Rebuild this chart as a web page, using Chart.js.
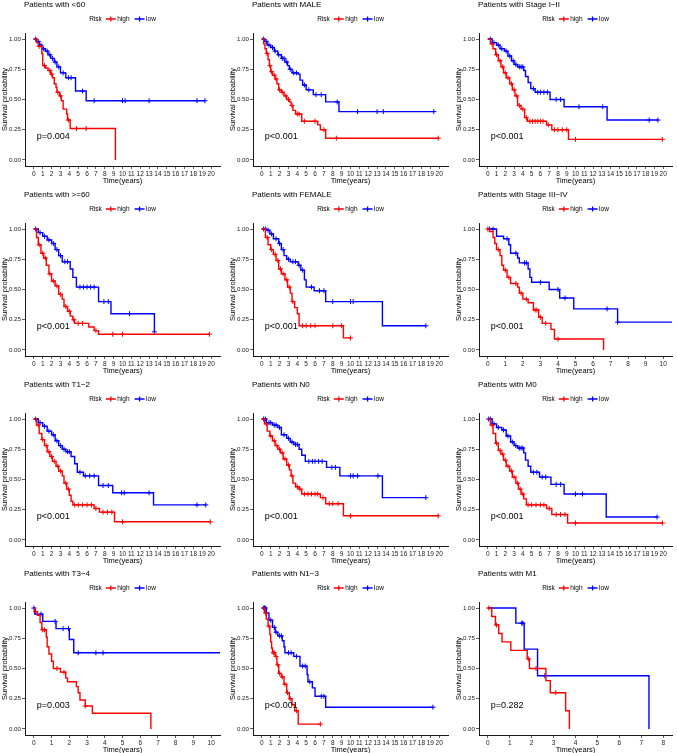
<!DOCTYPE html>
<html lang="en">
<head>
<meta charset="UTF-8" />
<title>Survival by subgroup</title>
<script src="https://cdn.jsdelivr.net/npm/chart.js@4"></script>
<style>
  html, body { margin: 0; padding: 0; background: #fff; }
  body { width: 677px; height: 753px; position: relative; overflow: hidden; }
  .panel { position: absolute; width: 225px; height: 189px; }
</style>
</head>
<body>
<script>
// KM step points [time, survival] and censor times
const lt60High = [[0,1],[0.3,0.97],[0.5,0.94],[0.9,0.88],[1.0,0.78],[1.3,0.76],[1.6,0.74],[1.9,0.71],[2.1,0.68],[2.3,0.63],[2.5,0.60],[2.6,0.56],[2.9,0.53],[3.1,0.49],[3.3,0.42],[3.7,0.38],[3.8,0.33],[4.1,0.26],[9.2,0]];
const lt60HighCens = [0.6,1.2,1.8,2.0,2.7,3.0,3.9,4.8,5.9];
const lt60Low = [[0,1],[0.3,0.98],[0.6,0.95],[0.9,0.92],[1.3,0.90],[1.6,0.87],[1.9,0.84],[2.3,0.81],[2.6,0.77],[3.0,0.72],[3.6,0.68],[4.7,0.57],[5.9,0.49],[19.3,0.49]];
const lt60LowCens = [0.2,0.5,0.8,1.1,1.5,1.8,2.1,2.4,2.8,3.3,3.9,4.2,5.5,6.8,10.0,10.3,13.0,18.4,19.3];

const maleHigh = [[0,1],[0.2,0.96],[0.35,0.92],[0.5,0.88],[0.7,0.83],[0.85,0.78],[1.0,0.73],[1.2,0.70],[1.5,0.67],[1.7,0.63],[1.9,0.58],[2.2,0.56],[2.5,0.53],[2.8,0.50],[3.1,0.48],[3.3,0.45],[3.5,0.41],[3.8,0.38],[4.5,0.32],[6.3,0.29],[6.6,0.25],[7.2,0.18],[19.9,0.18]];
const maleHighCens = [0.6,0.9,1.1,1.4,1.6,2.0,2.3,2.7,3.0,3.4,4.0,4.2,4.8,6.0,7.0,8.4,19.9];
const maleLow = [[0,1],[0.3,0.98],[0.6,0.95],[1.0,0.93],[1.4,0.90],[1.8,0.87],[2.2,0.84],[2.6,0.81],[2.9,0.78],[3.1,0.75],[3.4,0.72],[4.1,0.71],[4.3,0.66],[4.6,0.62],[5.0,0.58],[5.8,0.54],[7.2,0.48],[8.7,0.40],[19.4,0.40]];
const maleLowCens = [0.2,0.5,0.8,1.2,1.5,1.9,2.3,2.5,2.8,3.2,3.6,3.9,4.8,5.3,6.1,6.7,8.5,10.8,13.0,13.7,19.4];

const st12High = [[0,1],[0.3,0.96],[0.6,0.92],[0.9,0.87],[1.2,0.82],[1.5,0.77],[1.8,0.72],[2.1,0.68],[2.5,0.63],[2.8,0.58],[3.1,0.53],[3.4,0.45],[3.8,0.42],[4.2,0.35],[4.5,0.32],[6.7,0.29],[7.3,0.25],[9.2,0.17],[19.9,0.17]];
const st12HighCens = [0.5,1.0,1.4,1.7,2.0,2.3,2.7,3.0,3.3,3.6,4.0,4.4,4.8,5.1,5.4,5.7,6.0,6.3,6.9,7.6,8.0,8.5,9.0,10.0,19.9];
const st12Low = [[0,1],[0.5,0.97],[1.0,0.95],[1.4,0.92],[1.9,0.90],[2.3,0.86],[2.7,0.82],[3.0,0.79],[3.4,0.77],[4.1,0.74],[4.3,0.69],[4.6,0.64],[4.9,0.59],[5.4,0.56],[7.1,0.50],[8.7,0.44],[13.6,0.33],[19.4,0.33]];
const st12LowCens = [0.3,0.7,1.2,1.6,2.1,2.5,2.9,3.2,3.6,3.8,4.0,5.2,5.7,6.0,6.4,6.8,7.8,8.3,10.4,13.1,18.4,19.4];

const ge60High = [[0,1],[0.3,0.93],[0.5,0.87],[0.8,0.80],[1.1,0.76],[1.4,0.70],[1.7,0.63],[2.0,0.57],[2.4,0.53],[2.8,0.46],[3.2,0.42],[3.4,0.36],[3.8,0.32],[4.1,0.28],[4.4,0.25],[4.6,0.22],[6.2,0.19],[6.8,0.16],[7.3,0.13],[19.8,0.13]];
const ge60HighCens = [0.6,1.0,1.3,1.8,2.2,2.6,3.0,3.6,4.0,4.5,5.0,5.5,7.0,8.9,10.0,19.8];
const ge60Low = [[0,1],[0.5,0.97],[1.0,0.94],[1.5,0.91],[2.0,0.88],[2.4,0.83],[2.8,0.78],[3.2,0.73],[4.1,0.67],[4.4,0.60],[4.8,0.52],[7.3,0.40],[8.7,0.30],[13.6,0.15]];
const ge60LowCens = [0.2,0.7,1.2,1.7,2.2,2.6,3.0,3.5,3.8,5.2,5.6,6.0,6.4,6.8,7.9,8.4,10.8,13.6];

const femaleHigh = [[0,1],[0.4,0.93],[0.7,0.87],[1.0,0.83],[1.3,0.79],[1.6,0.74],[1.9,0.67],[2.2,0.63],[2.6,0.58],[2.9,0.52],[3.2,0.47],[3.4,0.40],[3.7,0.35],[4.0,0.30],[4.2,0.20],[9.2,0.10],[10.0,0.10]];
const femaleHighCens = [0.6,1.1,1.5,1.8,2.1,2.4,2.8,3.1,3.5,4.6,5.0,5.5,6.0,8.0,9.0,10.0];
const femaleLow = [[0,1],[0.5,0.99],[0.9,0.96],[1.3,0.92],[1.9,0.88],[2.2,0.83],[2.5,0.78],[2.8,0.75],[3.2,0.73],[4.1,0.70],[4.4,0.66],[4.8,0.58],[5.0,0.52],[5.9,0.49],[7.2,0.40],[13.6,0.20],[18.5,0.20]];
const femaleLowCens = [0.2,0.4,0.7,1.1,1.6,2.0,2.4,3.0,3.5,3.8,4.2,4.6,5.6,6.5,7.0,8.0,10.0,10.3,18.5];

const st34High = [[0,1],[0.1,0.98],[0.3,0.93],[0.4,0.88],[0.5,0.83],[0.7,0.78],[0.8,0.70],[0.9,0.66],[1.1,0.60],[1.3,0.55],[1.7,0.52],[1.8,0.47],[2.0,0.42],[2.3,0.39],[2.6,0.33],[2.9,0.27],[3.1,0.22],[3.6,0.17],[3.8,0.09],[6.6,0]];
const st34HighCens = [0.0,0.6,1.0,1.2,1.6,1.9,2.2,2.7,2.8,3.0,3.3,4.0];
const st34Low = [[0,1],[0.5,0.94],[0.9,0.92],[1.2,0.87],[1.3,0.80],[1.7,0.76],[1.8,0.72],[2.3,0.67],[2.4,0.60],[2.5,0.56],[3.5,0.50],[4.1,0.43],[4.9,0.34],[7.4,0.23],[11,0.23]];
const st34LowCens = [0.1,0.3,1.1,1.6,2.1,2.2,3.0,4.0,4.4,6.8,7.4];

const t12High = [[0,1],[0.3,0.95],[0.6,0.88],[0.9,0.83],[1.2,0.78],[1.5,0.73],[1.8,0.69],[2.1,0.65],[2.5,0.61],[2.8,0.57],[3.2,0.53],[3.4,0.47],[3.7,0.42],[4.0,0.37],[4.2,0.32],[4.4,0.29],[6.8,0.26],[7.4,0.23],[9.1,0.15],[19.9,0.15]];
const t12HighCens = [0.5,1.0,1.4,1.7,2.0,2.3,2.7,3.0,3.6,3.9,4.6,5.0,5.5,6.0,6.5,7.0,7.8,8.3,8.8,10.0,19.9];
const t12Low = [[0,1],[0.5,0.97],[1.0,0.94],[1.5,0.90],[2.0,0.87],[2.4,0.82],[2.8,0.78],[3.2,0.75],[3.6,0.73],[4.2,0.69],[4.6,0.63],[4.9,0.56],[5.6,0.53],[7.3,0.45],[8.9,0.39],[13.5,0.29],[19.4,0.29]];
const t12LowCens = [0.2,0.7,1.2,1.7,2.2,2.6,3.0,3.4,3.8,4.0,5.2,5.8,6.3,6.8,7.8,8.4,9.9,10.2,13.0,18.4,19.4];

const n0High = [[0,1],[0.3,0.96],[0.6,0.90],[0.9,0.86],[1.2,0.82],[1.5,0.78],[1.8,0.75],[2.1,0.72],[2.4,0.67],[2.8,0.62],[3.1,0.58],[3.3,0.53],[3.5,0.47],[3.8,0.44],[4.2,0.42],[4.5,0.38],[6.6,0.35],[7.2,0.30],[9.2,0.20],[19.9,0.20]];
const n0HighCens = [0.5,1.0,1.4,1.7,2.0,2.3,2.6,3.0,3.4,4.0,4.3,4.8,5.2,5.6,6.0,6.3,6.9,7.6,8.0,8.6,10.0,19.9];
const n0Low = [[0,1],[0.5,0.97],[1.2,0.95],[1.8,0.93],[2.2,0.87],[2.8,0.84],[3.2,0.81],[3.6,0.79],[4.2,0.75],[4.5,0.70],[4.9,0.65],[7.3,0.60],[8.8,0.53],[13.6,0.35],[18.5,0.35]];
const n0LowCens = [0.2,0.4,0.8,1.0,1.4,1.6,2.0,2.5,3.0,3.4,3.8,4.0,5.3,5.7,6.0,6.4,6.8,7.9,8.3,10.0,10.3,10.8,13.1,18.5];

const m0High = [[0,1],[0.3,0.95],[0.6,0.88],[0.9,0.80],[1.2,0.74],[1.5,0.71],[1.8,0.66],[2.1,0.61],[2.5,0.57],[2.8,0.52],[3.2,0.47],[3.5,0.42],[3.8,0.38],[4.1,0.34],[4.4,0.29],[6.7,0.26],[7.3,0.21],[9.1,0.14],[19.9,0.14]];
const m0HighCens = [0.5,1.0,1.4,1.7,2.0,2.3,2.7,3.0,3.4,3.7,4.0,4.6,5.0,5.5,6.0,6.4,7.0,7.8,8.3,8.8,10.0,19.9];
const m0Low = [[0,1],[0.5,0.96],[1.0,0.93],[1.6,0.91],[2.1,0.86],[2.6,0.81],[3.0,0.78],[3.4,0.76],[4.1,0.72],[4.3,0.66],[4.6,0.61],[4.9,0.56],[5.9,0.52],[7.2,0.46],[8.7,0.38],[13.5,0.19],[19.3,0.19]];
const m0LowCens = [0.1,0.3,0.7,1.2,1.8,2.3,2.8,3.2,3.6,3.8,4.0,5.2,5.6,6.2,6.6,7.8,8.3,10.0,10.8,19.3];

const t34High = [[0,1],[0.05,0.97],[0.2,0.94],[0.35,0.88],[0.45,0.82],[0.7,0.76],[0.75,0.68],[0.85,0.62],[1.0,0.56],[1.1,0.50],[1.5,0.47],[1.8,0.42],[1.9,0.39],[2.4,0.35],[2.5,0.30],[2.6,0.24],[2.9,0.19],[3.3,0.13],[6.6,0]];
const t34HighCens = [0.1,0.5,0.6,1.3,1.7,2.9];
const t34Low = [[0,1],[0.05,0.95],[0.5,0.89],[1.25,0.83],[2.0,0.74],[2.25,0.63],[11,0.63]];
const t34LowCens = [0.0,0.4,1.2,1.65,1.95,2.5,3.5,3.9];

const n13High = [[0,1],[0.3,0.96],[0.5,0.91],[0.7,0.85],[0.9,0.78],[1.0,0.72],[1.1,0.67],[1.2,0.63],[1.5,0.60],[1.7,0.53],[1.9,0.46],[2.2,0.43],[2.5,0.37],[2.8,0.30],[3.1,0.25],[3.4,0.20],[3.7,0.15],[4.1,0.04],[6.6,0.04]];
const n13HighCens = [0.4,0.8,1.3,1.4,1.6,1.8,2.0,2.3,2.6,2.9,3.2,3.9,6.6];
const n13Low = [[0,1],[0.5,0.96],[0.8,0.90],[1.2,0.84],[1.5,0.80],[1.8,0.77],[2.3,0.73],[2.5,0.68],[2.6,0.63],[3.6,0.60],[4.3,0.52],[5.1,0.45],[5.2,0.39],[5.7,0.34],[6.0,0.27],[7.2,0.18],[19.3,0.18]];
const n13LowCens = [0.2,0.3,0.4,1.0,1.4,1.6,2.0,2.2,3.0,3.3,3.9,4.6,4.9,5.4,6.7,7.0,19.3];

const m1High = [[0,1],[0.18,0.93],[0.35,0.86],[0.5,0.79],[0.65,0.72],[1.05,0.65],[1.8,0.58],[1.9,0.50],[2.65,0.40],[2.85,0.30],[3.55,0.15],[3.72,0]];
const m1HighCens = [0.05,0.4,1.85,2.2,3.1];
const m1Low = [[0,1],[1.28,0.875],[1.66,0.66],[2.27,0.44],[7.35,0]];
const m1LowCens = [1.55,1.6,2.6];

const titles = ["Patients with <60","Patients with MALE","Patients with Stage I\u2212II",
  "Patients with >=60","Patients with FEMALE","Patients with Stage III\u2212IV",
  "Patients with T1\u22122","Patients with N0","Patients with M0",
  "Patients with T3\u22124","Patients with N1\u22123","Patients with M1"];
const pvals = ["p=0.004","p<0.001","p<0.001","p<0.001","p<0.001","p<0.001",
  "p<0.001","p<0.001","p<0.001","p=0.003","p<0.001","p=0.282"];
const xMaxes = [20,20,20,20,20,10,20,20,20,10,20,8];
const yTicks = [0, 0.25, 0.5, 0.75, 1];
const highCurves = [lt60High, maleHigh, st12High, ge60High, femaleHigh, st34High, t12High, n0High, m0High, t34High, n13High, m1High];
const highCens = [lt60HighCens, maleHighCens, st12HighCens, ge60HighCens, femaleHighCens, st34HighCens, t12HighCens, n0HighCens, m0HighCens, t34HighCens, n13HighCens, m1HighCens];
const lowCurves = [lt60Low, maleLow, st12Low, ge60Low, femaleLow, st34Low, t12Low, n0Low, m0Low, t34Low, n13Low, m1Low];
const lowCens = [lt60LowCens, maleLowCens, st12LowCens, ge60LowCens, femaleLowCens, st34LowCens, t12LowCens, n0LowCens, m0LowCens, t34LowCens, n13LowCens, m1LowCens];

const RED = "#ff0000";
const BLUE = "#0000ff";
const FONT = "'Liberation Sans', Arial, sans-serif";
const colLeft = [0, 228, 454];
const rowTop = [0, 190, 380, 569];

function survAt(steps, t) {
  let s = steps[0][1];
  for (const [st, sv] of steps) if (st <= t) s = sv;
  return s;
}

// title, inline legend and p-value drawn in the padding / plot area
const panelText = {
  id: "panelText",
  afterDraw(chart, args, opts) {
    const { ctx, chartArea } = chart;
    const xs = chart.scales.x, ys = chart.scales.y;
    ctx.save();
    ctx.fillStyle = "#000";
    ctx.textBaseline = "middle";
    ctx.textAlign = "left";
    ctx.font = "8px " + FONT;
    ctx.fillText(opts.title, chartArea.left - 1, 5);

    ctx.font = "6.5px " + FONT;
    const wRisk = ctx.measureText("Risk").width;
    const wHigh = ctx.measureText("high").width;
    const wLow = ctx.measureText("low").width;
    const sym = 10;
    const total = wRisk + 4 + sym + 1.5 + wHigh + 5 + sym + 1.5 + wLow;
    let lx = (chartArea.left + chartArea.right) / 2 - total / 2;
    const ly = 19;
    ctx.fillText("Risk", lx, ly);
    lx += wRisk + 4;
    const drawSym = (x, color) => {
      ctx.strokeStyle = color;
      ctx.lineWidth = 1.3;
      ctx.beginPath();
      ctx.moveTo(x, ly); ctx.lineTo(x + sym, ly);
      ctx.moveTo(x + sym / 2, ly - 2.4); ctx.lineTo(x + sym / 2, ly + 2.4);
      ctx.stroke();
    };
    drawSym(lx, RED);
    lx += sym + 1.5;
    ctx.fillText("high", lx, ly);
    lx += wHigh + 5;
    drawSym(lx, BLUE);
    lx += sym + 1.5;
    ctx.fillText("low", lx, ly);

    ctx.font = "9px " + FONT;
    ctx.fillText(opts.pval, xs.getPixelForValue(0) + 3, ys.getPixelForValue(0.19));
    ctx.restore();
  }
};

titles.forEach((title, i) => {
  const col = i % 3, row = Math.floor(i / 3);
  const div = document.createElement("div");
  div.className = "panel";
  div.style.left = colLeft[col] + "px";
  div.style.top = rowTop[row] + "px";
  if (col === 2) div.style.width = "223px";
  const canvas = document.createElement("canvas");
  div.appendChild(canvas);
  document.body.appendChild(div);

  const xMax = xMaxes[i];
  const pad = xMax * 0.05;
  const xTicks = [];
  for (let v = 0; v <= xMax; v++) xTicks.push(v);

  const high = highCurves[i], low = lowCurves[i];
  const toXY = steps => steps.map(([x, y]) => ({ x, y }));
  const censXY = (steps, times) => times.map(t => ({ x: t, y: survAt(steps, t) }));

  new Chart(canvas, {
    type: "scatter",
    data: {
      datasets: [
        { label: "high", data: toXY(high), showLine: true, stepped: true, borderColor: RED, borderWidth: 1.4, pointRadius: 0 },
        { label: "low", data: toXY(low), showLine: true, stepped: true, borderColor: BLUE, borderWidth: 1.4, pointRadius: 0 },
        { label: "high censored", data: censXY(high, highCens[i]), pointStyle: "cross", pointRadius: 2.5, borderColor: RED, backgroundColor: RED, borderWidth: 1 },
        { label: "low censored", data: censXY(low, lowCens[i]), pointStyle: "cross", pointRadius: 2.5, borderColor: BLUE, backgroundColor: BLUE, borderWidth: 1 }
      ]
    },
    options: {
      responsive: true,
      maintainAspectRatio: false,
      animation: false,
      events: [],
      layout: { padding: { top: 33, right: col === 2 ? 1 : 4, left: 0, bottom: 0 } },
      plugins: {
        legend: { display: false },
        tooltip: { enabled: false },
        panelText: { title: title, pval: pvals[i] }
      },
      scales: {
        x: {
          type: "linear",
          min: -pad,
          max: xMax + pad,
          afterBuildTicks: s => { s.ticks = xTicks.map(v => ({ value: v })); },
          afterFit: s => { s.height = 23; },
          ticks: { font: { size: 6.5, family: FONT }, color: "#222", padding: 1, autoSkip: false, maxRotation: 0, minRotation: 0 },
          grid: { drawOnChartArea: false, drawTicks: true, tickLength: 3, tickColor: "#333", tickWidth: 0.8 },
          border: { display: true, color: "#000", width: 0.9 },
          title: { display: true, text: "Time(years)", color: "#000", font: { size: 7.5, family: FONT }, padding: { top: 0, bottom: 3.5 } }
        },
        y: {
          type: "linear",
          min: -0.05,
          max: 1.05,
          afterBuildTicks: s => { s.ticks = yTicks.map(v => ({ value: v })); },
          afterFit: s => { s.width = 25; },
          ticks: { font: { size: 6.2, family: FONT }, color: "#222", padding: 1, callback: v => v.toFixed(2) },
          grid: { drawOnChartArea: false, drawTicks: true, tickLength: 3, tickColor: "#333", tickWidth: 0.8 },
          border: { display: true, color: "#000", width: 0.9 },
          title: { display: true, text: "Survival probability", color: "#000", font: { size: 7.5, family: FONT }, padding: { top: 0, bottom: 0 } }
        }
      }
    },
    plugins: [panelText]
  });
});
</script>
</body>
</html>
